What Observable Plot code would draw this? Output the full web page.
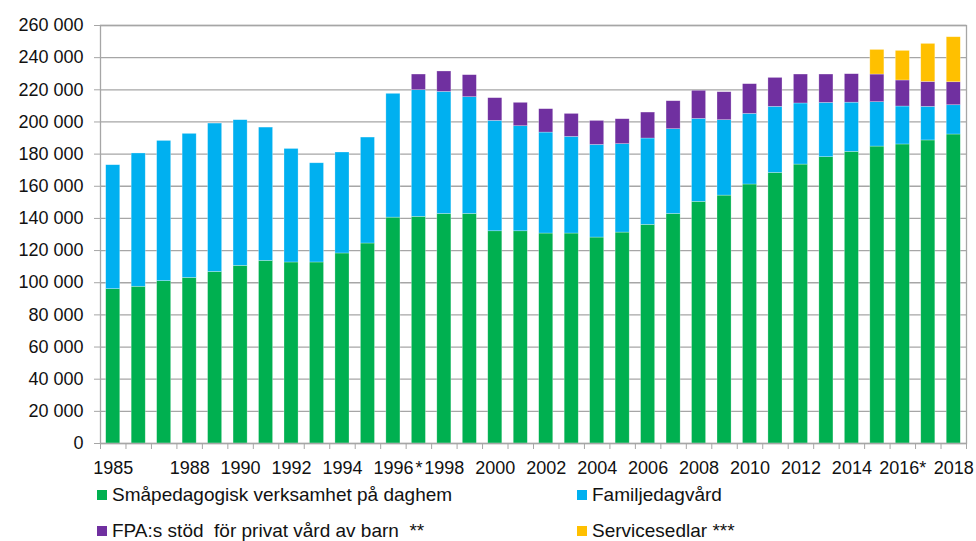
<!DOCTYPE html>
<html><head><meta charset="utf-8">
<script src="https://cdn.jsdelivr.net/npm/d3@7"></script>
<script src="https://cdn.jsdelivr.net/npm/@observablehq/plot@0.6"></script>
<style>
body{margin:0;background:#fff;font-family:"Liberation Sans",Arial,sans-serif;}
#wrap{position:relative;width:976px;height:541px;overflow:hidden;background:#fff;}
#chart{position:absolute;left:0;top:0;}
.leg{position:absolute;font-size:19px;line-height:21px;white-space:pre;color:#111;display:flex;align-items:center;}
.sw{display:inline-block;width:10px;height:10px;margin-right:5px;}
</style></head><body><div id="wrap"><div id="chart"></div></div>
<script>
const years = [1985,1986,1987,1988,1989,1990,1991,1992,1993,1994,1995,1996,1997,1998,1999,2000,2001,2002,2003,2004,2005,2006,2007,2008,2009,2010,2011,2012,2013,2014,2015,2016,2017,2018];
const xLabels = ["1985","","","1988","","1990","","1992","","1994","","1996","*","1998","","2000","","2002","","2004","","2006","","2008","","2010","","2012","","2014","","2016*","","2018"];
const seriesNames = ["Småpedagogisk verksamhet på daghem","Familjedagvård","FPA:s stöd  för privat vård av barn  **","Servicesedlar ***"];
const seriesColors = ["#00B050","#00B0F0","#7030A0","#FFC000"];
const smapedagogisk = [96000,97500,101000,103000,106700,110500,113600,112600,112600,118200,124400,140500,141000,142800,142800,132000,132000,130600,130600,128100,131200,136000,142800,150300,154200,161100,168300,173500,178100,181400,184700,186000,188500,192200];
const familjedagvard = [77100,82900,87200,89600,92300,90600,82900,70600,61700,62800,65900,77000,78750,75900,72600,68700,65350,62800,60100,57600,55000,53700,52700,51600,46900,43900,41100,38000,33750,30600,27600,23600,20900,18200];
const fpa = [0,0,0,0,0,0,0,0,0,0,0,0,9750,12700,13700,14100,14550,14550,14300,14950,15500,16150,17400,17500,17400,18500,18000,18000,17650,17700,17200,16200,15500,14300];
const servicesedlar = [0,0,0,0,0,0,0,0,0,0,0,0,0,0,0,0,0,0,0,0,0,0,0,0,0,0,0,0,0,0,15300,18400,23650,28000];
const yTicks = [0,20000,40000,60000,80000,100000,120000,140000,160000,180000,200000,220000,240000,260000];

const seriesValues = [smapedagogisk, familjedagvard, fpa, servicesedlar];
const table = seriesNames.flatMap((name, s) => years.map((year, i) => ({year, series: name, value: seriesValues[s][i]}))).filter(d => d.value > 0);
const boundaries = years.map(y => y - 0.5).concat([years[years.length - 1] + 0.5]);
const fmt = d => d3.format(",")(d).replace(/,/g, " ");

const chart = Plot.plot({
  width: 976, height: 482,
  marginLeft: 100, marginRight: 10, marginTop: 25, marginBottom: 39,
  style: {fontFamily: "'Liberation Sans', Arial, sans-serif", fontSize: "18px", color: "#111", background: "#fff"},
  x: {type: "linear", domain: [years[0] - 0.5, years[years.length - 1] + 0.5]},
  y: {domain: [0, 260000]},
  color: {domain: seriesNames, range: seriesColors},
  marks: [
    Plot.gridY(yTicks, {stroke: "#a6a6a6", strokeOpacity: 1, strokeWidth: 1.3}),
    Plot.rectY(table, Plot.stackY({
      x1: d => d.year - 0.5, x2: d => d.year + 0.5, y: "value", fill: "series",
      insetLeft: 5.7, insetRight: 5.7, stroke: "#fff", strokeOpacity: 0.45, strokeWidth: 0.6
    })),
    Plot.frame({stroke: "#a6a6a6", strokeWidth: 1.3}),
    Plot.axisY({ticks: yTicks, tickFormat: fmt, tickSize: 6, tickPadding: 11, stroke: "#a6a6a6", fill: "#111", label: null}),
    Plot.axisX({ticks: years, tickFormat: d => xLabels[years.indexOf(d)], tickSize: 0, tickPadding: 18, fill: "#111", label: null}),
    Plot.axisX({ticks: boundaries, tickFormat: () => "", tickSize: 6, stroke: "#a6a6a6", label: null})
  ]
});
document.getElementById("chart").appendChild(chart);

const wrap = document.getElementById("wrap");
const legendPos = [[97, 484], [577, 484], [97, 520], [577, 520]];
seriesNames.forEach((name, i) => {
  const div = document.createElement("div");
  div.className = "leg";
  div.style.left = legendPos[i][0] + "px";
  div.style.top = legendPos[i][1] + "px";
  const sw = document.createElement("span");
  sw.className = "sw";
  sw.style.background = seriesColors[i];
  const tx = document.createElement("span");
  tx.textContent = name;
  div.appendChild(sw);
  div.appendChild(tx);
  wrap.appendChild(div);
});
</script></body></html>
